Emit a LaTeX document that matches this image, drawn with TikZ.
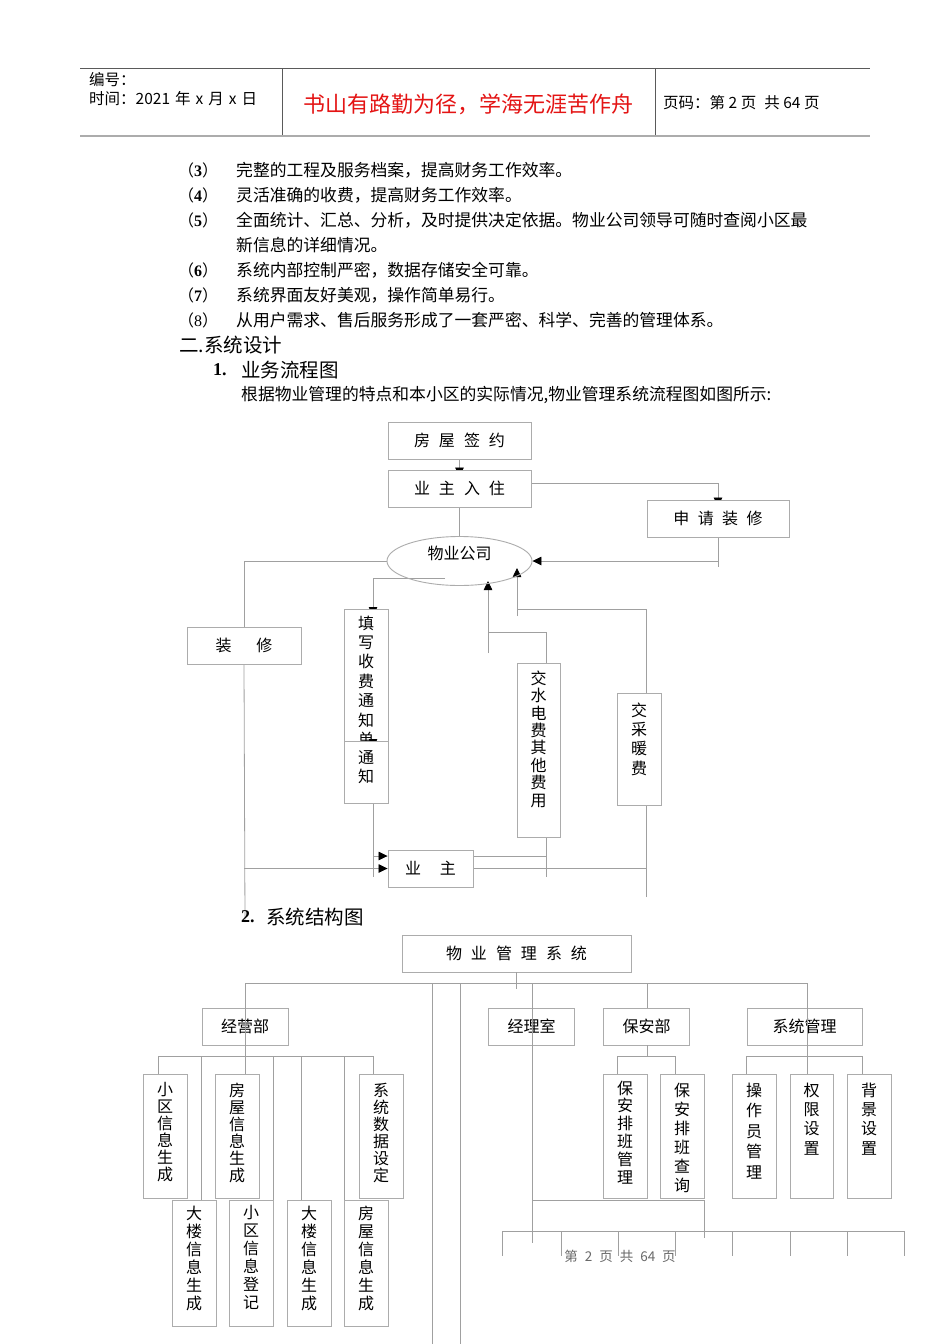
\documentclass[tikz,border=0pt]{standalone}
\usepackage{fontspec}
\setmainfont{Noto Sans CJK SC}
\newfontfamily\numfont{Liberation Serif}
\usetikzlibrary{arrows.meta,shapes.geometric}
\pgfdeclarelayer{back}
\pgfdeclarelayer{bg}
\pgfsetlayers{back,bg,main}
\newcommand{\setfs}[1]{\fontsize{#1}{#1}\selectfont}
\definecolor{redtxt}{RGB}{228,20,20}
\definecolor{boxc}{RGB}{172,172,172}
\definecolor{linec}{RGB}{160,160,160}
\definecolor{footc}{RGB}{105,105,105}
\definecolor{hdrc}{RGB}{90,90,90}
\begin{document}
\begin{tikzpicture}[x=1pt,y=-1pt,
  txt/.style={anchor=west,inner sep=0pt},
  box/.style={draw=boxc,line width=0.9pt,fill=white,inner sep=0pt},
  sbox/.style={draw=boxc,line width=0.9pt,inner sep=0pt},
  ln/.style={draw=linec,line width=0.8pt},
  arr/.style={ln,-{Triangle[length=9pt,width=8.5pt,color=black]}},
  vt/.style={align=center,inner sep=0pt,anchor=north,font=\fontsize{16}{#1}\selectfont},
  bt/.style={font=\setfs{16}},
  body/.style={txt,font=\setfs{16.8}},
  num/.style={txt,font=\setfs{16}}]
\begin{pgfonlayer}{back}
\fill[white] (0,0) rectangle (950,1344);
\end{pgfonlayer}
\useasboundingbox (0,0) rectangle (950,1344);

% ---------------- header ----------------
\coordinate (hTL) at (80,68.5); \coordinate (hTR) at (870,68.5);
\coordinate (hBL) at (80,135.5); \coordinate (hBR) at (870,135.5);
\coordinate (d1t) at (282,69); \coordinate (d1b) at (282,135);
\coordinate (d2t) at (655,69); \coordinate (d2b) at (655,135);
\draw[hdrc,line width=0.8pt] (hTL) -- (hTR);
\draw[gray!65,line width=2pt] (hBL) -- (hBR);
\draw[hdrc,line width=0.7pt] (d1t) -- (d1b);
\draw[hdrc,line width=0.7pt] (d2t) -- (d2b);
\node[txt,font=\setfs{15.5}] (bh) at (89,80) {编号：};
\node[txt,font=\setfs{15.5}] (sj) at (89,99) {时间：2021\hspace{5pt}年\hspace{5pt}x\hspace{5pt}月\hspace{5pt}x\hspace{5pt}日};
\node[inner sep=0pt,font=\setfs{22},text=redtxt] (motto) at (468,104) {书山有路勤为径，学海无涯苦作舟};
\node[txt,font=\setfs{15.5}] (ym) at (663,103) {页码：第\hspace{3.5pt}2\hspace{3.5pt}页\hspace{8pt}共\hspace{3.5pt}64\hspace{3.5pt}页};

% ---------------- body text ----------------
\node[num] (n3) at (178,170) {（{\numfont\bfseries 3}）};
\node[body] (t3) at (236,170) {完整的工程及服务档案，提高财务工作效率。};
\node[num] (n4) at (178,195) {（{\numfont\bfseries 4}）};
\node[body] (t4) at (236,195) {灵活准确的收费，提高财务工作效率。};
\node[num] (n5) at (178,220) {（{\numfont\bfseries 5}）};
\node[body] (t5) at (236,220) {全面统计、汇总、分析，及时提供决定依据。物业公司领导可随时查阅小区最};
\node[body] (t5b) at (236,245) {新信息的详细情况。};
\node[num] (n6) at (178,270) {（{\numfont\bfseries 6}）};
\node[body] (t6) at (236,270) {系统内部控制严密，数据存储安全可靠。};
\node[num] (n7) at (178,295) {（{\numfont\bfseries 7}）};
\node[body] (t7) at (236,295) {系统界面友好美观，操作简单易行。};
\node[num] (n8) at (178,320) {（{\numfont 8}）};
\node[body] (t8) at (236,320) {从用户需求、售后服务形成了一套严密、科学、完善的管理体系。};
\node[txt,font=\setfs{19.5}] (sec2) at (179,345) {二.系统设计};
\node[txt,font=\setfs{18}] (s1n) at (213,370) {\numfont\bfseries 1.};
\node[txt,font=\setfs{19.5}] (s1t) at (241,370) {业务流程图};
\node[txt,font=\setfs{16.8}] (intro) at (241,395) {根据物业管理的特点和本小区的实际情况,物业管理系统流程图如图所示:};

% ---------------- flow chart ----------------
\node[box,bt,minimum width=143pt,minimum height=37pt] (qy) at (459.5,440.5) {房\hspace{9pt}屋\hspace{9pt}签\hspace{9pt}约};
\node[box,bt,minimum width=143pt,minimum height=37pt] (rz) at (459.5,488.5) {业\hspace{9pt}主\hspace{9pt}入\hspace{9pt}住};
\node[box,bt,minimum width=142pt,minimum height=37pt] (sq) at (718,518.5) {申\hspace{8.5pt}请\hspace{8.5pt}装\hspace{8.5pt}修};
\node[draw=boxc,line width=0.9pt,ellipse,minimum width=145pt,minimum height=49pt,inner sep=0pt] (gs) at (459.5,561) {};
\node[bt,inner sep=0pt] (gs-t) at (459.5,553) {物业公司};
\node[box,bt,minimum width=114pt,minimum height=37pt] (zx) at (244,645.5) {装\hspace{25pt}修};

\coordinate (txo) at (373,739);
\coordinate (tzin) at (373,748);
\node[box,minimum width=44pt,minimum height=132pt] (tx) at (366,675) {};
\node[vt=19.4] (tx-t) at (366,615.5) {填\\写\\收\\费\\通\\知\\单};
\draw[arr] (txo) -- (tzin);
\node[box,minimum width=44pt,minimum height=62pt] (tz) at (366,772) {};
\node[vt=19] (tz-t) at (366,750.5) {通\\知};

\node[box,minimum width=43pt,minimum height=174pt] (sd) at (538.5,750) {};
\node[vt=17.4] (sd-t) at (538.5,670.5) {交\\水\\电\\费\\其\\他\\费\\用};
\node[box,minimum width=44pt,minimum height=112pt] (cn) at (639,749) {};
\node[vt=19.3] (cn-t) at (639,702.5) {交\\采\\暖\\费};
\node[box,bt,minimum width=85pt,minimum height=37pt] (yz) at (430.5,868.5) {业\hspace{19pt}主};

% connector coordinates
\coordinate (sqend) at (718,567);
\coordinate (gsb) at (445,578);
\coordinate (txin) at (373,616);
\coordinate (tzb) at (373,803);
\coordinate (tzend) at (373,877);
\coordinate (zxend) at (245,922);
\coordinate (sdtop) at (546,632);
\coordinate (sdend) at (546,877);
\coordinate (k1) at (488,632);
\coordinate (k1b) at (488,653);
\coordinate (gsin1) at (488,581);
\coordinate (cntop) at (646,609);
\coordinate (cnend) at (646,897);
\coordinate (k2) at (517,609);
\coordinate (k2b) at (517,616);
\coordinate (gsin2) at (517,568);

\begin{pgfonlayer}{bg}
\draw[arr] (qy.south) -- ([yshift=-7pt]rz.north);
\draw[arr] ([yshift=5.5pt]rz.east) -| ([yshift=-7pt]sq.north);
\draw[ln] (rz.south) -- (gs.north);
\draw[ln] (sq.south) -- (sqend);
\draw[arr] (sq.south |- gs.east) -- (gs.east);
\draw[ln] (gs.west) -| (zx.north);
\draw[ln] (zx.south) -- (zxend);
\draw[arr] (zx.south |- yz.west) -- (yz.west);
\draw[arr] (gsb) -| (txin);
\draw[ln] (tzb) -- (tzend);
\draw[arr] (tzb |- 0,856) -- ([yshift=12.5pt]yz.west);
\draw[ln] ([yshift=12.5pt]yz.east) -| (sdtop) -- (k1);
\draw[ln] (sdtop) -- (sdend);
\draw[arr] (k1b) -- (gsin1);
\draw[ln] (yz.east) -- (yz.east -| cntop);
\draw[ln] (cnend) -- (cntop) -- (k2);
\draw[arr] (k2b) -- (gsin2);
\end{pgfonlayer}

% ---------------- structure chart ----------------
\node[txt,font=\setfs{18}] (s2n) at (241,917) {\numfont\bfseries 2.};
\node[txt,font=\setfs{19.5}] (s2t) at (266,917) {系统结构图};

\node[sbox,bt,minimum width=229pt,minimum height=37pt] (sys) at (516.5,953.5) {物\hspace{9pt}业\hspace{9pt}管\hspace{9pt}理\hspace{9pt}系\hspace{9pt}统};
\node[sbox,bt,minimum width=86pt,minimum height=37pt] (jy) at (245,1026.5) {经营部};
\node[sbox,bt,minimum width=86pt,minimum height=37pt] (jl) at (531.5,1026.5) {经理室};
\node[sbox,bt,minimum width=86pt,minimum height=37pt] (ba) at (646.5,1026.5) {保安部};
\node[sbox,bt,minimum width=115pt,minimum height=37pt] (xt) at (804.5,1026.5) {系统管理};

\node[sbox,minimum width=44pt,minimum height=124pt] (c1) at (165,1136) {};
\node[vt=17] (c1-t) at (165,1082.5) {小\\区\\信\\息\\生\\成};
\node[sbox,minimum width=44pt,minimum height=124pt] (c2) at (237,1136) {};
\node[vt=17] (c2-t) at (237,1082.5) {房\\屋\\信\\息\\生\\成};
\node[sbox,minimum width=44pt,minimum height=124pt] (c3) at (381,1136) {};
\node[vt=17] (c3-t) at (381,1082.5) {系\\统\\数\\据\\设\\定};

\node[sbox,minimum width=44pt,minimum height=126pt] (d1) at (194,1263) {};
\node[vt=18] (d1-t) at (194,1205.5) {大\\楼\\信\\息\\生\\成};
\node[sbox,minimum width=44pt,minimum height=126pt] (d2) at (251,1263) {};
\node[vt=18] (d2-t) at (251,1205.5) {小\\区\\信\\息\\登\\记};
\node[sbox,minimum width=44pt,minimum height=126pt] (d3) at (309,1263) {};
\node[vt=18] (d3-t) at (309,1205.5) {大\\楼\\信\\息\\生\\成};
\node[sbox,minimum width=44pt,minimum height=126pt] (d4) at (366,1263) {};
\node[vt=18] (d4-t) at (366,1205.5) {房\\屋\\信\\息\\生\\成};

\node[sbox,minimum width=44pt,minimum height=124pt] (b1) at (625,1136) {};
\node[vt=17.8] (b1-t) at (625,1080.5) {保\\安\\排\\班\\管\\理};
\node[sbox,minimum width=44pt,minimum height=124pt] (b2) at (682,1136) {};
\node[vt=19] (b2-t) at (682,1082.5) {保\\安\\排\\班\\查\\询};

\node[sbox,minimum width=44pt,minimum height=124pt] (m1) at (754,1136) {};
\node[vt=20.5] (m1-t) at (754,1082.5) {操\\作\\员\\管\\理};
\node[sbox,minimum width=43pt,minimum height=124pt] (m2) at (811.5,1136) {};
\node[vt=19.3] (m2-t) at (811.5,1082.5) {权\\限\\设\\置};
\node[sbox,minimum width=44pt,minimum height=124pt] (m3) at (869,1136) {};
\node[vt=19.3] (m3-t) at (869,1082.5) {背\\景\\设\\置};

% structure coordinates
\coordinate (hL) at (245,983);
\coordinate (hR) at (807,983);
\coordinate (sysj) at (516.5,989);
\coordinate (vA) at (432,983); \coordinate (vAe) at (432,1344);
\coordinate (vB) at (460,983); \coordinate (vBe) at (460,1344);
\coordinate (jlv) at (532,983); \coordinate (jle) at (532,1243);
\coordinate (jlh) at (532,1200); \coordinate (jlr) at (704,1200); \coordinate (jlre) at (704,1238);
\coordinate (bav) at (647,983);
\coordinate (xtb) at (807,1074);
\coordinate (jyL) at (158,1056); \coordinate (jyR) at (373,1056);
\coordinate (baL) at (617,1056); \coordinate (baR) at (675,1056);
\coordinate (xtL) at (746,1056); \coordinate (xtR) at (862,1056);
\coordinate (botL) at (502,1231); \coordinate (botR) at (904,1231);

\draw[ln] (sys.south) -- (sysj);
\draw[ln] (hL) -- (hR);
\draw[ln] (hL) -- (hL |- c2.north);
\draw[ln] (vA) -- (vAe);
\draw[ln] (vB) -- (vBe);
\draw[ln] (jlv) -- (jle);
\draw[ln] (jlh) -- (jlr) -- (jlre);
\draw[ln] (bav) -- (bav |- ba.north);
\draw[ln] (bav |- ba.south) -- (bav |- baL);
\draw[ln] (hR) -- (xtb);
\draw[ln] (jyL) -- (jyR);
\draw[ln] (jyL) -- (jyL |- c1.north);
\draw[ln] (jyR) -- (jyR |- c3.north);
\foreach \x in {201,273,301,344} \draw[ln] (\x,1056) -- (\x,1200);
\draw[ln] (baL) -- (baR);
\draw[ln] (baL) -- (baL |- b1.north);
\draw[ln] (baR) -- (baR |- b2.north);
\draw[ln] (xtL) -- (xtR);
\draw[ln] (xtL) -- (xtL |- m1.north);
\draw[ln] (xtR) -- (xtR |- m3.north);
\draw[ln] (botL) -- (botR);
\foreach \x in {502,561,618,675,732,790,847,904} \draw[ln] (\x,1231) -- (\x,1256);

\node[inner sep=0pt,font=\setfs{13.5},text=footc] (foot) at (620,1256) {第\hspace{7pt}2\hspace{7pt}页\hspace{7pt}共\hspace{7pt}64\hspace{7pt}页};
\end{tikzpicture}
\end{document}
